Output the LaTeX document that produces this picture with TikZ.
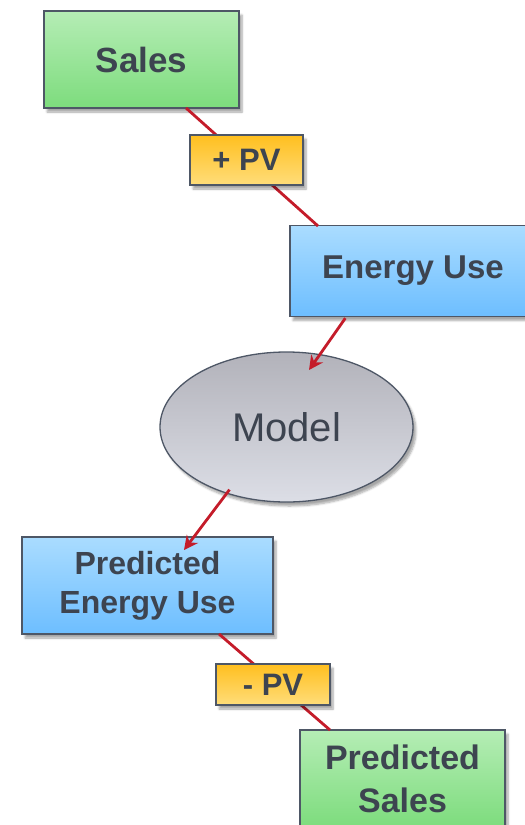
\documentclass[tikz,border=0pt]{standalone}
\usepackage{fontspec}
\setmainfont{Liberation Sans}
\usetikzlibrary{shadows.blur,arrows.meta,shapes.geometric}
\definecolor{txt}{HTML}{3D4450}
\definecolor{bord}{HTML}{4E5766}
\definecolor{lred}{HTML}{C41C2A}
\definecolor{gtop}{HTML}{B5EDB5}
\definecolor{gbot}{HTML}{7DDC7D}
\definecolor{otop}{HTML}{FFBF1F}
\definecolor{obot}{HTML}{FFDD7A}
\definecolor{btop}{HTML}{AADCFF}
\definecolor{bbot}{HTML}{6DBEFF}
\definecolor{mtop}{HTML}{B2B2BA}
\definecolor{mbot}{HTML}{DCDEE6}
\tikzset{
  base/.style={draw=bord, line width=1.3pt, text=txt, align=center, inner sep=0pt,
    blur shadow={shadow xshift=3pt, shadow yshift=-4pt, shadow blur steps=6, shadow opacity=35}},
  greenbox/.style={base, rectangle, top color=gtop, bottom color=gbot},
  bluebox/.style={base, rectangle, top color=btop, bottom color=bbot},
  pvbox/.style={base, rectangle, top color=otop, bottom color=obot},
  modelshape/.style={base, ellipse, top color=mtop, bottom color=mbot},
  link/.style={draw=lred, line width=2.8pt},
  flow/.style={draw=lred, line width=2.8pt, -{Stealth[length=14pt,width=14pt]}},
}
\begin{document}
\begin{tikzpicture}[x=1pt,y=-1pt]
\useasboundingbox (0,0) rectangle (525,825);
% nodes
\node[greenbox, minimum width=195pt, minimum height=97pt, font=\fontsize{35}{40}\selectfont\bfseries] (sales) at (141.5,59.5) {Sales};
\node[bluebox, minimum width=246pt, minimum height=91pt, font=\fontsize{33}{38}\selectfont\bfseries] (energy) at (413,271) {Energy Use};
\node[modelshape, minimum width=253pt, minimum height=150pt, font=\fontsize{40}{46}\selectfont] (model) at (286.5,427) {Model};
\node[bluebox, minimum width=251pt, minimum height=97pt, font=\fontsize{32}{39}\selectfont\bfseries] (peu) at (147.5,585.5) {Predicted\\Energy Use};
\node[greenbox, minimum width=205pt, minimum height=97pt, font=\fontsize{34}{43}\selectfont\bfseries] (psales) at (402.5,778.5) {Predicted\\Sales};
% connectors
\draw[link] (186,108) coordinate (s1) -- (318,226) coordinate (e1);
\draw[link] (219,634) coordinate (p1) -- (330,730) coordinate (q1);
\draw[flow] (energy.south west) ++(56,1) coordinate (e2) -- (309,370) coordinate (m1);
\draw[flow] (model.south) ++(-57,-13) coordinate (m2) -- (184,550) coordinate (p2);
% labels on the links
\node[pvbox, minimum width=113pt, minimum height=50pt, font=\fontsize{31}{36}\selectfont\bfseries] (pv1) at (246.5,160) {+ PV};
\node[pvbox, minimum width=114pt, minimum height=41pt, font=\fontsize{31}{36}\selectfont\bfseries] (pv2) at (273,684.5) {- PV};
\end{tikzpicture}
\end{document}
